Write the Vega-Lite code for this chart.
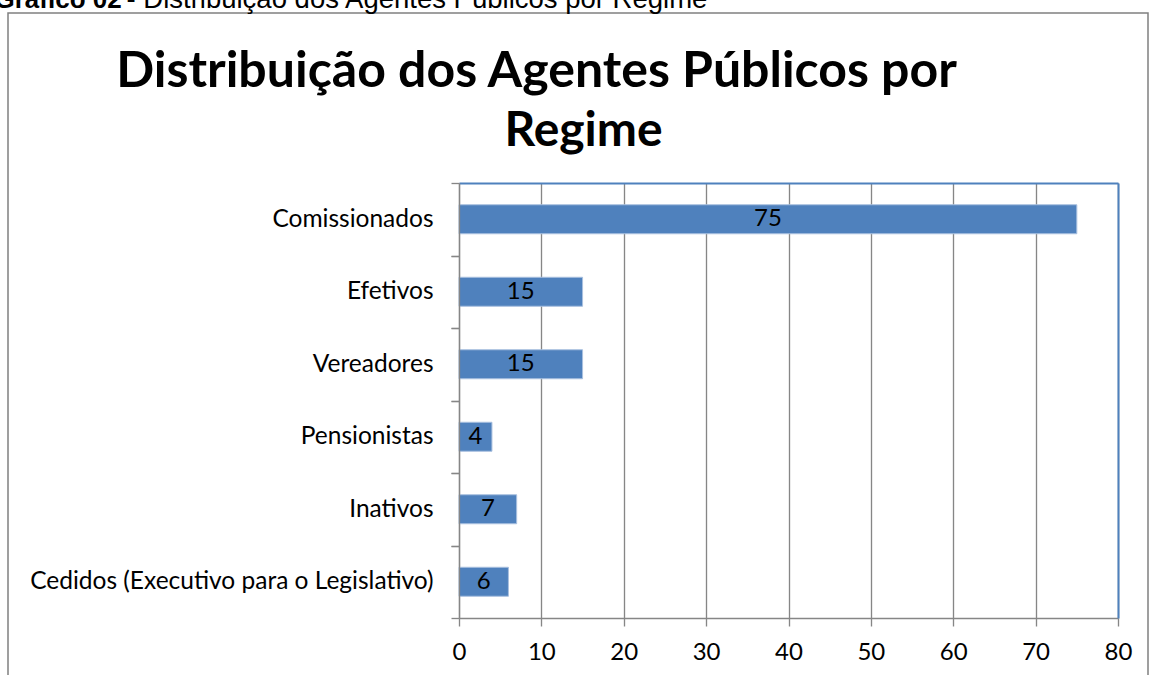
{
  "$schema": "https://vega.github.io/schema/vega-lite/v6.json",
  "width": 1140,
  "height": 700,
  "autosize": "none",
  "padding": {"left": 8, "top": 13, "right": 2, "bottom": 0},
  "background": "white",
  "config": {"view": {"stroke": "#808080", "strokeWidth": 1.5}},
  "data": {
    "values": [
      {"regime": "Comissionados", "agentes": 75},
      {"regime": "Efetivos", "agentes": 15},
      {"regime": "Vereadores", "agentes": 15},
      {"regime": "Pensionistas", "agentes": 4},
      {"regime": "Inativos", "agentes": 7},
      {"regime": "Cedidos (Executivo para o Legislativo)", "agentes": 6}
    ]
  },
  "resolve": {"axis": {"x": "independent", "y": "independent"}},
  "layer": [
    {
      "mark": {"type": "bar", "opacity": 0},
      "encoding": {
        "y": {
          "field": "regime", "type": "nominal", "sort": null,
          "axis": {
            "orient": "right", "offset": -30, "grid": false, "ticks": false, "labels": false,
            "domainColor": "#4f81bd", "domainWidth": 2,
            "title": "Distribuição dos Agentes Públicos por", "titleX": -582, "titleY": 73, "titleAngle": 0,
            "titleAlign": "center", "titleBaseline": "alphabetic", "titleFont": "Lato",
            "titleFontSize": 50, "titleFontWeight": "bold", "titleColor": "#000000", "titleLimit": 2000
          }
        },
        "x": {
          "field": "agentes", "type": "quantitative",
          "axis": {
            "orient": "top", "offset": -170, "values": [0, 10, 20, 30, 40, 50, 60, 70, 80],
            "grid": true, "gridColor": "#868686", "gridWidth": 1.33,
            "ticks": false, "labels": false,
            "domainColor": "#4f81bd", "domainWidth": 2,
            "title": "- Distribuição dos Agentes Públicos por Regime", "titleX": 118, "titleY": -176, "titleAngle": 0,
            "titleAlign": "left", "titleBaseline": "alphabetic", "titleFont": "Liberation Sans",
            "titleFontSize": 27.5, "titleFontWeight": "normal", "titleColor": "#000000", "titleLimit": 2000
          }
        }
      }
    },
    {
      "mark": {"type": "bar", "color": "#4f81bd", "stroke": "#a9c0df", "strokeWidth": 1},
      "encoding": {
        "y": {
          "field": "regime", "type": "nominal", "sort": null,
          "scale": {"range": [170, 605], "paddingInner": 0.6, "paddingOuter": 0.3},
          "axis": {
            "orient": "left", "offset": -451, "tickOffset": 36.25, "labelOffset": -36.25, "tickSize": 8,
            "tickColor": "#868686", "tickWidth": 1.33, "domainColor": "#868686", "domainWidth": 1.33,
            "labelFont": "Lato", "labelFontSize": 24.5, "labelColor": "#000000", "labelPadding": 18,
            "labelLimit": 600, "grid": false, "zindex": 1,
            "title": "Gráfico 02", "titleX": -465, "titleY": -6, "titleAngle": 0,
            "titleAlign": "left", "titleBaseline": "alphabetic", "titleFont": "Liberation Sans",
            "titleFontSize": 26, "titleFontWeight": "bold", "titleColor": "#000000", "titleLimit": 2000
          }
        },
        "x": {
          "field": "agentes", "type": "quantitative",
          "scale": {"domain": [0, 80], "range": [451, 1110], "nice": false, "zero": true},
          "axis": {
            "orient": "bottom", "offset": -95, "values": [0, 10, 20, 30, 40, 50, 60, 70, 80],
            "grid": false,
            "tickSize": 8, "tickColor": "#868686", "tickWidth": 1.33,
            "domainColor": "#868686", "domainWidth": 1.33,
            "labelFont": "Lato", "labelFontSize": 24, "labelColor": "#000000", "labelPadding": 14,
            "labelFlush": false, "labelOverlap": false,
            "title": "Regime", "titleX": 575, "titleY": -473, "titleAngle": 0,
            "titleAlign": "center", "titleBaseline": "alphabetic", "titleFont": "Lato",
            "titleFontSize": 48, "titleFontWeight": "bold", "titleColor": "#000000", "titleLimit": 2000
          }
        }
      }
    },
    {
      "mark": {"type": "text", "font": "Lato", "fontSize": 24, "color": "#000000", "align": "center", "baseline": "middle"},
      "encoding": {
        "y": {
          "field": "regime", "type": "nominal", "sort": null,
          "axis": {
            "orient": "left", "offset": -451, "tickOffset": -36.25, "tickSize": 8,
            "tickColor": "#868686", "tickWidth": 1.33, "domain": false, "labels": false,
            "grid": false, "title": null, "zindex": 1
          }
        },
        "x": {"field": "agentes", "type": "quantitative", "stack": "zero", "bandPosition": 0.5, "axis": null},
        "text": {"field": "agentes", "type": "quantitative"}
      }
    }
  ]
}
